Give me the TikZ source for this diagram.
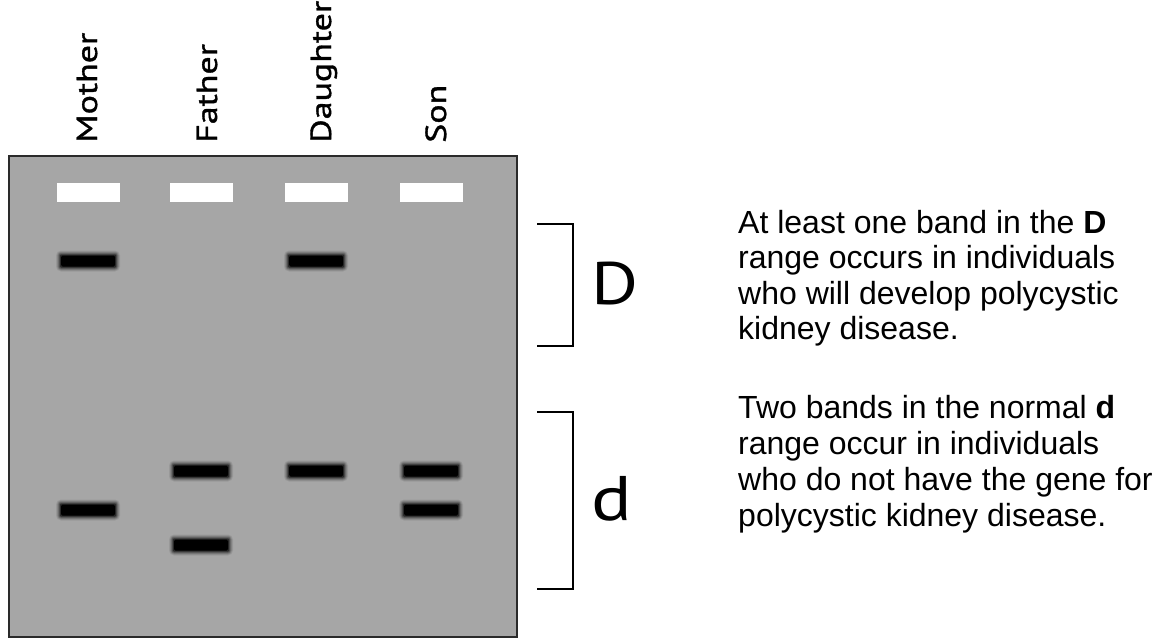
\documentclass[tikz,border=0pt]{standalone}
\usepackage{fontspec}
\setmainfont{Liberation Sans}
\newfontfamily\lblfont[FakeStretch=1.24,FakeBold=1.2]{PT Sans}
\newfontfamily\rngfont[FakeStretch=1.2]{PT Sans}
\definecolor{gelgray}{HTML}{A6A6A6}
\definecolor{geledge}{HTML}{2A2A2A}
\tikzset{
  gelbox/.style={fill=gelgray, draw=geledge, line width=2pt},
  wellbox/.style={fill=white},
  lanelabel/.style={rotate=90, anchor=base west, inner sep=0pt, font=\lblfont\fontsize{29}{29}\selectfont},
  rangebracket/.style={draw=black, line width=1.8pt},
  rangeletter/.style={anchor=base west, inner sep=0pt, font=\rngfont\fontsize{60}{60}\selectfont},
  explain/.style={anchor=base west, inner sep=0pt, align=left, font=\fontsize{32}{35.5}\selectfont}
}
\begin{document}
\begin{tikzpicture}[x=1pt,y=-1pt]
\useasboundingbox (0,0) rectangle (1164,639);
\fill[white] (0,0) rectangle (1164,639);
% gel
\draw[gelbox] (9,156) rectangle (517,637);
% wells
\foreach \x in {88,201,316,431} {
  \fill[wellbox] (\x-31.5,183) rectangle (\x+31.5,202);
}
% bands
\foreach \x/\y in {88/261, 316/261, 201/471, 316/471, 431/471, 88/510, 431/510, 201/545} {
  \foreach \e/\o in {5/0.08, 4/0.12, 3/0.18, 2/0.28, 1/0.45} {
    \fill[black, opacity=\o, rounded corners=\e pt] (\x-27-\e, \y-5.5-\e) rectangle (\x+27+\e, \y+5.5+\e);
  }
  \fill[black, rounded corners=1.5pt] (\x-27,\y-5.5) rectangle (\x+27,\y+5.5);
}
% lane labels
\node[lanelabel] (mother) at (97,143) {Mother};
\node[lanelabel] (father) at (217,143) {Father};
\node[lanelabel] (daughter) at (331,143) {Daughter};
\node[lanelabel] (son) at (446,143) {Son};
% brackets
\draw[rangebracket] (537,224) -- (573,224) -- (573,346) -- (537,346);
\draw[rangebracket] (537,412) -- (573,412) -- (573,589) -- (537,589);
\node[rangeletter] (bigD) at (591,304) {D};
\node[rangeletter, font=\rngfont\fontsize{63}{63}\selectfont] (smalld) at (591,520) {d};
% explanations
\node[explain] (textD) at (738,339.5) {At least one band in the \textbf{D}\\range occurs in individuals\\who will develop polycystic\\kidney disease.};
\node[explain, font=\fontsize{32}{36}\selectfont] (textd) at (738,526) {Two bands in the normal \textbf{d}\\range occur in individuals\\who do not have the gene for\\polycystic kidney disease.};
\end{tikzpicture}
\end{document}
